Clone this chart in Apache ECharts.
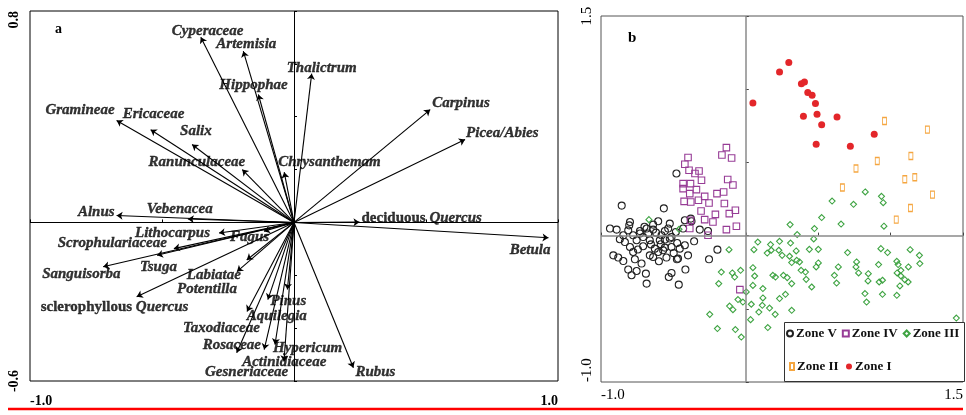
<!DOCTYPE html>
<html>
<head>
<meta charset="utf-8">
<script src="https://cdn.jsdelivr.net/npm/echarts@6/dist/echarts.min.js"></script>
<style>
  html, body { margin: 0; padding: 0; background: #fff; }
  #chart { width: 966px; height: 415px; }
</style>
</head>
<body>
<div id="chart"></div>
<script>
// Panel a: taxon scores on ordination axes 1 and 2 (arrow tips)
const taxa = [
  'Cyperaceae', 'Artemisia', 'Hippophae', 'Thalictrum', 'Carpinus', 'Picea/Abies',
  'Chrysanthemam', 'Gramineae', 'Ericaceae', 'Salix', 'Ranunculaceae', 'Alnus',
  'Vebenacea', 'Lithocarpus', 'Fagus', 'Scrophulariaceae', 'Sanguisorba', 'Tsuga',
  'sclerophyllous Quercus', 'Labiatae', 'Potentilla', 'Pinus', 'Aquilegia',
  'Taxodiaceae', 'Rosaceae', 'Actinidiaceae', 'Hypericum', 'Gesneriaceae', 'Rubus',
  'deciduous Quercus', 'Betula'
];
const axis1Scores = [
  -0.353, -0.192, -0.135, 0.067, 0.516, 0.648,
  -0.037, -0.672, -0.543, -0.386, -0.196, -0.672,
  -0.402, -0.284, -0.114, -0.455, -0.723, -0.519,
  -0.596, -0.179, -0.216, -0.025, -0.099,
  -0.178, -0.217, -0.113, -0.072, -0.038, 0.225,
  0.248, 0.964
];
const axis2Scores = [
  0.701, 0.648, 0.484, 0.563, 0.427, 0.314,
  0.190, 0.386, 0.351, 0.295, 0.200, 0.026,
  0.013, -0.040, -0.033, -0.099, -0.168, -0.124,
  -0.281, -0.142, -0.186, -0.254, -0.292,
  -0.337, -0.493, -0.481, -0.462, -0.526, -0.550,
  0.001, -0.058
];
const xTicksA = [-1.0, 1.0];
const yTicksA = [-0.6, 0.8];

// Panel b: sample scores by pollen zone
const zoneV = [
  [-0.857,0.205],[-0.566,0.186],[-0.479,0.424],[-0.800,0.093],[-0.805,0.070],[-0.605,0.098],
  [-0.525,0.082],[-0.421,0.105],[-0.375,0.098],[-0.938,0.048],[-0.892,0.041],[-0.812,0.036],
  [-0.731,0.031],[-0.685,0.048],[-0.640,0.041],[-0.536,0.048],[-0.318,0.041],[-0.261,0.031],
  [-0.846,0.002],[-0.778,0.002],[-0.709,-0.010],[-0.582,0.002],[-0.525,-0.020],[-0.357,-0.039],
  [-0.835,-0.044],[-0.754,-0.032],[-0.663,-0.032],[-0.594,-0.032],[-0.559,-0.027],[-0.800,-0.078],
  [-0.709,-0.073],[-0.628,-0.089],[-0.513,-0.078],[-0.456,-0.089],[-0.421,-0.066],[-0.915,-0.135],
  [-0.881,-0.150],[-0.663,-0.135],[-0.605,-0.112],[-0.571,-0.100],[-0.640,-0.146],[-0.548,-0.150],
  [-0.468,-0.157],[-0.399,-0.135],[-0.254,-0.162],[-0.196,-0.096],[-0.846,-0.174],[-0.766,-0.162],
  [-0.720,-0.191],[-0.812,-0.232],[-0.754,-0.242],[-0.789,-0.271],[-0.690,-0.260],[-0.513,-0.255],
  [-0.532,-0.283],[-0.417,-0.232],[-0.685,-0.328],[-0.463,-0.335],[-0.476,-0.162],[-0.380,0.116],
  [-0.731,0.014],[-0.674,0.014],[-0.559,0.031],[-0.513,-0.010],[-0.483,0.025],[-0.433,0.048],
  [-0.474,-0.051],[-0.587,-0.059],[-0.559,-0.082],[-0.778,-0.112],[-0.620,0.020],[-0.700,0.060],
  [-0.745,-0.095],[-0.655,-0.060],[-0.600,-0.175],[-0.870,-0.025],[-0.498,-0.120],[-0.640,0.075]
];
const zoneIV = [
  [-0.134,0.601],[-0.165,0.551],[-0.098,0.530],[-0.399,0.533],[-0.421,0.487],[-0.392,0.446],
  [-0.323,0.441],[-0.351,0.424],[-0.306,0.378],[-0.433,0.355],[-0.382,0.355],[-0.125,0.383],
  [-0.089,0.346],[-0.433,0.321],[-0.341,0.314],[-0.387,0.287],[-0.284,0.268],[-0.199,0.287],
  [-0.153,0.298],[-0.426,0.234],[-0.380,0.230],[-0.327,0.241],[-0.254,0.223],[-0.148,0.219],
  [-0.309,0.168],[-0.210,0.145],[-0.072,0.173],[-0.284,0.109],[-0.227,0.093],[-0.382,0.105],
  [-0.065,0.064],[-0.134,0.041],[-0.387,0.048],[-0.261,0.002],[-0.041,-0.369],[-0.114,0.150]
];
const zoneIII = [
  [0.825,0.298],[0.937,0.268],[0.949,0.225],[0.596,0.236],[0.744,0.214],[0.524,0.123],
  [0.306,0.075],[0.658,0.079],[0.954,0.064],[0.474,0.048],[0.355,0.007],[0.469,-0.023],
  [0.083,-0.044],[0.171,-0.061],[0.233,-0.039],[0.309,-0.051],[0.439,-0.094],[0.501,-0.094],
  [0.056,-0.096],[0.148,-0.119],[0.176,-0.100],[0.228,-0.100],[0.251,-0.135],[0.348,-0.105],
  [0.302,-0.141],[0.352,-0.169],[0.371,-0.180],[0.317,-0.184],[0.501,-0.187],[0.486,-0.214],
  [0.382,-0.237],[0.412,-0.249],[0.049,-0.219],[0.061,-0.276],[0.187,-0.271],[0.205,-0.283],
  [0.260,-0.271],[0.286,-0.287],[0.417,-0.299],[0.317,-0.328],[0.455,-0.351],[0.049,-0.340],
  [0.118,-0.362],[0.274,-0.401],[0.233,-0.430],[0.118,-0.426],[0.038,-0.469],[0.114,-0.476],
  [0.164,-0.495],[0.090,-0.522],[0.203,-0.538],[0.317,-0.510],[0.033,-0.574],[0.152,-0.628],
  [-0.072,-0.642],[-0.031,-0.693],[-0.054,-0.437],[-0.112,-0.481],[-0.089,-0.506],[-0.020,-0.454],
  [-0.093,-0.255],[-0.036,-0.237],[-0.077,-0.283],[-0.116,-0.096],[-0.169,-0.249],
  [0.703,-0.116],[0.765,-0.180],[0.761,-0.214],[0.779,-0.255],[0.639,-0.214],[0.612,-0.271],
  [0.627,-0.324],[0.846,-0.260],[0.844,-0.310],[0.823,-0.396],[0.834,-0.454],[0.933,-0.089],
  [0.979,-0.116],[0.917,-0.198],[0.944,-0.305],[0.921,-0.317],[0.944,-0.401],[1.043,-0.176],
  [1.052,-0.198],[1.071,-0.237],[1.045,-0.255],[1.071,-0.276],[1.098,-0.301],[1.121,-0.317],
  [1.064,-0.344],[1.043,-0.408],[1.135,-0.096],[1.199,-0.135],[1.202,-0.191],[1.123,-0.214],
  [1.454,-0.563],[-0.669,0.109],[-0.461,0.043],[-0.187,-0.328],[-0.249,-0.538],[-0.196,-0.635],
  [0.003,-0.385]
];
const zoneII = [
  [0.958,0.783],[1.254,0.724],[1.140,0.544],[0.908,0.510],[0.761,0.458],[1.098,0.385],
  [1.167,0.398],[0.667,0.328],[1.289,0.280],[1.137,0.189],[1.039,0.109]
];
const zoneI = [
  [0.297,1.182],[0.233,1.117],[0.384,1.038],[0.405,1.049],[0.428,0.977],[0.458,0.958],
  [0.481,0.902],[0.049,0.906],[0.398,0.815],[0.492,0.829],[0.630,0.810],[0.524,0.758],
  [0.887,0.692],[0.486,0.624],[0.722,0.610]
];
const xTicksB = [-1.0, 1.5];
const yTicksB = [-1.0, 1.5];

// Label anchor offsets (px from arrow tip) and text alignment
const labelPlace = {
  'Cyperaceae': [-29, -6, 'left'], 'Artemisia': [-27, -7, 'left'], 'Hippophae': [-39, -9, 'left'],
  'Thalictrum': [-25, -6, 'left'], 'Carpinus': [2, -6, 'left'], 'Picea/Abies': [1, -6, 'left'],
  'Chrysanthemam': [-6, -10, 'left'], 'Gramineae': [-2, -10, 'right'], 'Ericaceae': [-28, -16, 'left'],
  'Salix': [-12, -13, 'left'], 'Ranunculaceae': [3, -7, 'right'], 'Alnus': [-2, -3, 'right'],
  'Vebenacea': [-41, -10, 'left'], 'Lithocarpus': [-84, 0, 'left'], 'Fagus': [-34, 6, 'left'],
  'Scrophulariaceae': [-7, -5, 'right'], 'Sanguisorba': [-61, 7, 'left'], 'Tsuga': [-17, 12, 'left'],
  'sclerophyllous Quercus': [-96, 10, 'left'], 'Labiatae': [-60, 15, 'left'], 'Potentilla': [-60, 18, 'left'],
  'Pinus': [-17, 12, 'left'], 'Aquilegia': [-21, 17, 'left'], 'Taxodiaceae': [-64, 17, 'left'],
  'Rosaceae': [-34, -8, 'left'], 'Actinidiaceae': [-22, 13, 'left'], 'Hypericum': [-2, 4, 'left'],
  'Gesneriaceae': [-79, 11, 'left'], 'Rubus': [2, 4, 'left'], 'deciduous Quercus': [2, -4, 'left'],
  'Betula': [2, 12, 'right']
};

const SERIF = 'Liberation Serif';
const INK = '#000';
const near = (a, b) => Math.abs(a - b) < 1e-6;
const endLabel = (ticks) => (v) => ticks.some(t => near(v, t)) ? v.toFixed(1) : '';

function taxonText(name) {
  const m = name.match(/^(\S+) (Quercus)$/);
  if (m) return '{u|' + m[1] + ' }{i|' + m[2] + '}';
  return '{i|' + name + '}';
}

const chart = echarts.init(document.getElementById('chart'), null, { renderer: 'canvas' });

const zoneStyle = [
  { name: 'Zone V', data: zoneV, symbol: 'circle', size: 7, color: 'rgba(0,0,0,0)', border: '#222' },
  { name: 'Zone IV', data: zoneIV, symbol: 'rect', size: 6.5, color: 'rgba(0,0,0,0)', border: '#973c96' },
  { name: 'Zone III', data: zoneIII, symbol: 'diamond', size: 6, color: 'rgba(0,0,0,0)', border: '#3fa443' },
  { name: 'Zone II', data: zoneII, symbol: 'rect', size: [4, 7], color: 'rgba(0,0,0,0)', border: '#f5a640' },
  { name: 'Zone I', data: zoneI, symbol: 'circle', size: 7, color: '#e3262a', border: '#e3262a' }
];

const labelFont = { fontFamily: SERIF, fontSize: 15, fontWeight: 'bold', color: INK, textBorderColor: INK, textBorderWidth: 0.35 };

const option = {
  animation: false,
  backgroundColor: '#fff',
  title: [
    { text: 'a', left: 50, top: 17, textStyle: { fontFamily: SERIF, fontWeight: 'bold', fontSize: 14, color: INK } },
    { text: 'b', left: 623, top: 26, textStyle: { fontFamily: SERIF, fontWeight: 'bold', fontSize: 15, color: INK } }
  ],
  grid: [
    { left: 30, top: 11, width: 528, height: 370, show: true, borderColor: '#000', borderWidth: 1, backgroundColor: 'rgba(0,0,0,0)' },
    { left: 601, top: 16, width: 363, height: 366, show: true, borderColor: '#555', borderWidth: 1, backgroundColor: 'rgba(0,0,0,0)' }
  ],
  xAxis: [
    {
      gridIndex: 0, type: 'value', min: -1, max: 1, interval: 0.5,
      axisLine: { show: false },
      axisTick: { inside: true, length: 3, lineStyle: { color: '#000' } },
      splitLine: { show: false },
      axisLabel: {
        formatter: endLabel(xTicksA), margin: 13, fontFamily: SERIF, fontWeight: 'bold', fontSize: 14, color: INK,
        alignMinLabel: 'left', alignMaxLabel: 'right'
      }
    },
    {
      gridIndex: 1, type: 'value', min: -1, max: 1.5, interval: 0.5,
      axisLine: { show: false },
      axisTick: { inside: true, length: 3, lineStyle: { color: '#444' } },
      splitLine: { show: false },
      axisLabel: {
        formatter: endLabel(xTicksB), margin: 6, fontFamily: SERIF, fontSize: 15, color: INK,
        alignMinLabel: 'left', alignMaxLabel: 'right'
      }
    }
  ],
  yAxis: [
    {
      gridIndex: 0, type: 'value', min: -0.6, max: 0.8, interval: 0.2,
      axisLine: { show: false },
      axisTick: { inside: true, length: 3, lineStyle: { color: '#000' } },
      splitLine: { show: false },
      axisLabel: {
        formatter: endLabel(yTicksA), rotate: 90, margin: 9, fontFamily: SERIF, fontWeight: 'bold', fontSize: 14, color: INK,
        alignMinLabel: 'center', alignMaxLabel: 'right'
      }
    },
    {
      gridIndex: 1, type: 'value', min: -1, max: 1.5, interval: 0.5,
      axisLine: { show: false },
      axisTick: { inside: true, length: 3, lineStyle: { color: '#444' } },
      splitLine: { show: false },
      axisLabel: {
        formatter: endLabel(yTicksB), rotate: 90, margin: 6, fontFamily: SERIF, fontSize: 15, color: INK,
        alignMinLabel: 'left', alignMaxLabel: 'center'
      }
    }
  ],
  legend: [
    {
      data: ['Zone V', 'Zone IV', 'Zone III'], left: 786, top: 327, padding: 0, itemGap: 5,
      itemWidth: 6, itemHeight: 6, z: 20, selectedMode: false,
      textStyle: { fontFamily: SERIF, fontWeight: 'bold', fontSize: 13, color: '#111', padding: [0, 0, 0, -2] }
    },
    {
      data: ['Zone II'], left: 789, top: 360, padding: 0, itemWidth: 4, itemHeight: 7, z: 20, selectedMode: false,
      textStyle: { fontFamily: SERIF, fontWeight: 'bold', fontSize: 13, color: '#111', padding: [0, 0, 0, -2] }
    },
    {
      data: ['Zone I'], left: 846, top: 360, padding: 0, itemWidth: 6, itemHeight: 6, z: 20, selectedMode: false,
      textStyle: { fontFamily: SERIF, fontWeight: 'bold', fontSize: 13, color: '#111', padding: [0, 0, 0, -2] }
    }
  ],
  graphic: [
    {
      type: 'rect', z: 15, silent: true,
      shape: { x: 784.5, y: 322.5, width: 180, height: 59 },
      style: { fill: '#fff', stroke: '#333', lineWidth: 1 }
    },
    {
      type: 'line', z: 15, silent: true,
      shape: { x1: 8, y1: 409, x2: 963, y2: 409 },
      style: { stroke: '#ff0000', lineWidth: 2.5 }
    }
  ],
  series: [
    {
      type: 'lines', coordinateSystem: 'cartesian2d', xAxisIndex: 0, yAxisIndex: 0,
      silent: true, z: 3,
      symbol: ['none', 'arrow'], symbolSize: 6,
      lineStyle: { color: '#000', width: 1.1, opacity: 1, curveness: 0 },
      data: taxa.map((t, i) => ({ coords: [[0, 0], [axis1Scores[i], axis2Scores[i]]] }))
    },
    {
      type: 'scatter', xAxisIndex: 0, yAxisIndex: 0, silent: true, z: 4,
      symbolSize: 0,
      itemStyle: { color: 'rgba(0,0,0,0)' },
      emphasis: { disabled: true },
      label: Object.assign({
        show: true, verticalAlign: 'middle',
        rich: {
          i: Object.assign({ fontStyle: 'italic' }, labelFont),
          u: Object.assign({ fontStyle: 'normal' }, labelFont)
        }
      }, labelFont),
      data: taxa.map((t, i) => {
        const p = labelPlace[t];
        return {
          name: t,
          value: [axis1Scores[i], axis2Scores[i]],
          label: { position: [p[0], p[1]], align: p[2], formatter: taxonText(t) }
        };
      }),
      markLine: {
        silent: true, symbol: 'none', animation: false,
        label: { show: false },
        lineStyle: { color: '#000', width: 1, type: 'solid' },
        data: [{ xAxis: 0 }, { yAxis: 0 }]
      }
    },
    {
      type: 'scatter', xAxisIndex: 1, yAxisIndex: 1, silent: true, z: 1, symbolSize: 0, data: [],
      markLine: {
        silent: true, symbol: 'none', animation: false,
        label: { show: false },
        lineStyle: { color: '#8a8a8a', width: 1.5, type: 'solid' },
        data: [{ xAxis: 0 }, { yAxis: 0 }]
      }
    },
    ...zoneStyle.map(z => ({
      type: 'scatter', name: z.name, xAxisIndex: 1, yAxisIndex: 1, z: 2,
      symbol: z.symbol, symbolSize: z.size,
      itemStyle: { color: z.color, borderColor: z.border, borderWidth: z.name === 'Zone I' ? 0 : 1.1, opacity: 1 },
      emphasis: { disabled: true },
      data: z.data
    }))
  ]
};

chart.setOption(option);
</script>
</body>
</html>
